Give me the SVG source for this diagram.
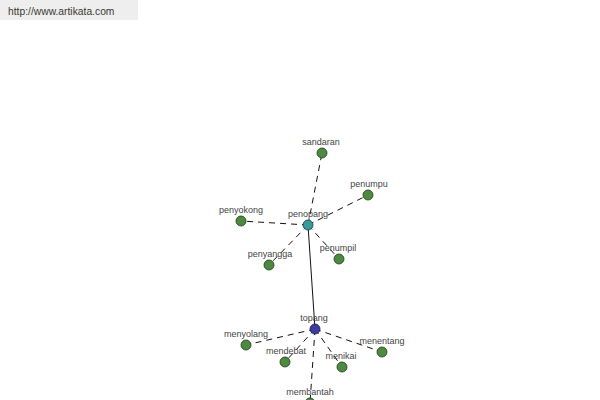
<svg xmlns="http://www.w3.org/2000/svg" width="600" height="400" viewBox="0 0 600 400">
<style>
.lbl{font-family:"Liberation Sans",Arial,sans-serif;font-size:9px;fill:#444;text-anchor:middle}
.leaf{fill:#4d8a3f;stroke:#1e3a1a;stroke-width:0.8}
.d{stroke:#111;stroke-width:1;stroke-dasharray:6,5;fill:none}
.s{stroke:#111;stroke-width:1;fill:none}
</style>
<rect width="600" height="400" fill="#fff"/>
<g id="banner"><rect x="0" y="0" width="138" height="20" fill="#eeeeee"/><text x="8" y="15" font-family="'Liberation Sans',Arial,sans-serif" font-size="10.3" fill="#3a3a32">http://www.artikata.com</text></g>
<g id="connectors">
<line class="s" x1="308" y1="225" x2="315" y2="329"/>
<line class="d" x1="308" y1="225" x2="322" y2="153"/>
<line class="d" x1="308" y1="225" x2="368" y2="195"/>
<line class="d" x1="308" y1="225" x2="241" y2="221"/>
<line class="d" x1="308" y1="225" x2="269" y2="265"/>
<line class="d" x1="308" y1="225" x2="339" y2="259"/>
<line class="d" x1="315" y1="329" x2="246" y2="345"/>
<line class="d" x1="315" y1="329" x2="285" y2="362"/>
<line class="d" x1="315" y1="329" x2="342" y2="367"/>
<line class="d" x1="315" y1="329" x2="382" y2="352"/>
<line class="d" x1="315" y1="329" x2="310" y2="403"/>
</g>
<g id="sandaran"><circle class="leaf" cx="322" cy="153" r="5"/><text class="lbl" x="321" y="145">sandaran</text></g>
<g id="penumpu"><circle class="leaf" cx="368" cy="195" r="5"/><text class="lbl" x="369" y="187">penumpu</text></g>
<g id="penyokong"><circle class="leaf" cx="241" cy="221" r="5"/><text class="lbl" x="241" y="213">penyokong</text></g>
<g id="penyangga"><circle class="leaf" cx="269" cy="265" r="5"/><text class="lbl" x="270" y="257">penyangga</text></g>
<g id="penumpil"><circle class="leaf" cx="339" cy="259" r="5"/><text class="lbl" x="338" y="251">penumpil</text></g>
<g id="penopang"><circle cx="308" cy="225" r="5" fill="#3a9a9a" stroke="#1a3a3a" stroke-width="0.8"/><text class="lbl" x="308" y="217">penopang</text></g>
<g id="topang"><circle cx="315" cy="329" r="5" fill="#3c3ca0" stroke="#1a1a40" stroke-width="0.8"/><text class="lbl" x="314" y="321">topang</text></g>
<g id="menyolang"><circle class="leaf" cx="246" cy="345" r="5"/><text class="lbl" x="246" y="337">menyolang</text></g>
<g id="mendebat"><circle class="leaf" cx="285" cy="362" r="5"/><text class="lbl" x="286" y="354">mendebat</text></g>
<g id="menikai"><circle class="leaf" cx="342" cy="367" r="5"/><text class="lbl" x="341" y="359">menikai</text></g>
<g id="menentang"><circle class="leaf" cx="382" cy="352" r="5"/><text class="lbl" x="382" y="344">menentang</text></g>
<g id="membantah"><circle class="leaf" cx="310" cy="403" r="5"/><text class="lbl" x="310" y="395">membantah</text></g>
</svg>
